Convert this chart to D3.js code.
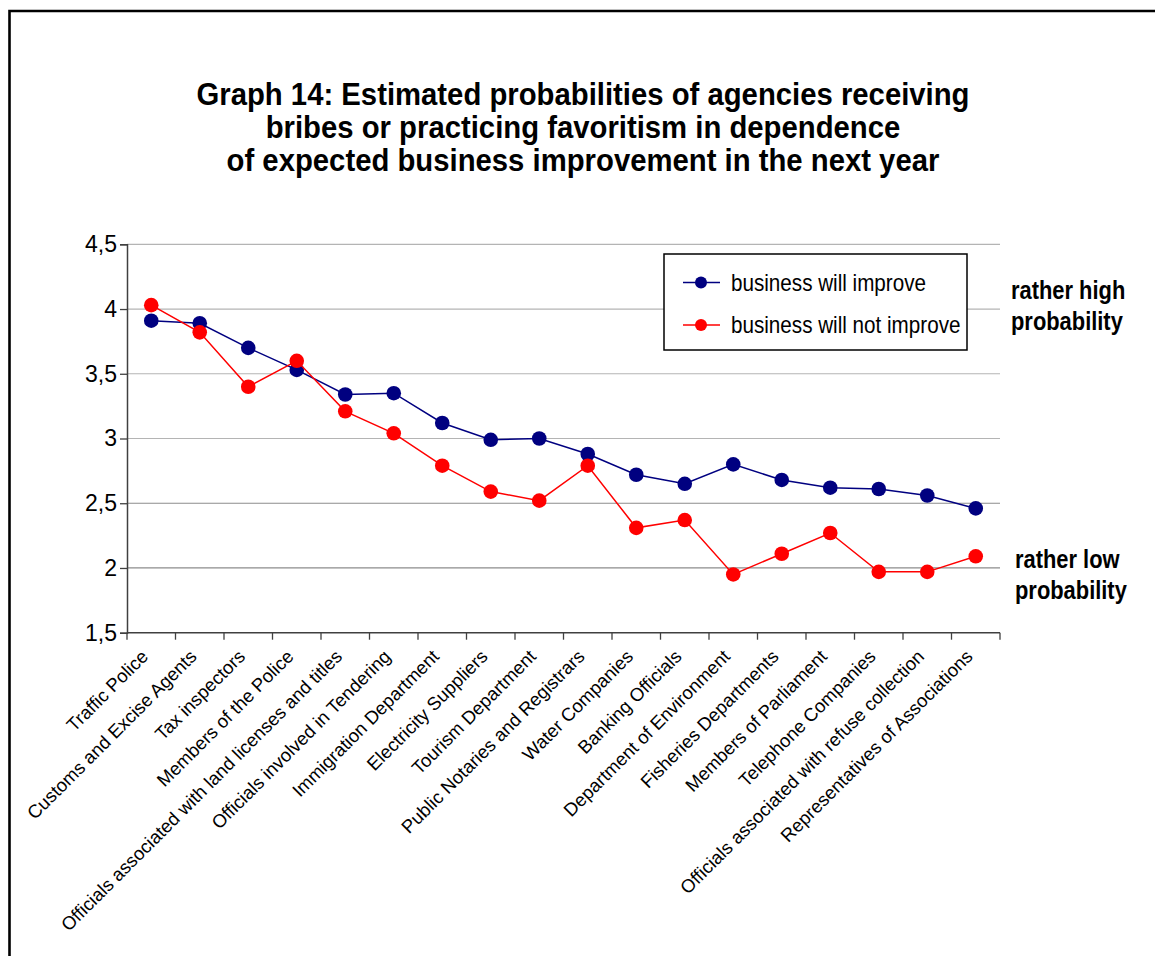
<!DOCTYPE html>
<html><head><meta charset="utf-8">
<script src="https://cdn.jsdelivr.net/npm/d3@7"></script>
<style>body{margin:0;background:#fff}svg{display:block}</style>
</head><body>
<svg id="c" width="1155" height="956"></svg>
<script>
const categories = ["Traffic Police","Customs and Excise Agents","Tax inspectors","Members of the Police","Officials associated with land licenses and titles","Officials involved in Tendering","Immigration Department","Electricity Suppliers","Tourism Department","Public Notaries and Registrars","Water Companies","Banking Officials","Department of Environment","Fisheries Departments","Members of Parliament","Telephone Companies","Officials associated with refuse collection","Representatives of Associations"];
const improve = [3.91,3.89,3.70,3.53,3.34,3.35,3.12,2.99,3.00,2.88,2.72,2.65,2.80,2.68,2.62,2.61,2.56,2.46];
const notImprove = [4.03,3.82,3.40,3.60,3.21,3.04,2.79,2.59,2.52,2.79,2.31,2.37,1.95,2.11,2.27,1.97,1.97,2.09];
const yTicks = [1.5,2,2.5,3,3.5,4,4.5];
const seriesNames = ["business will improve","business will not improve"];
const seriesColors = ["#000080","#ff0000"];
const titleLines = ["Graph 14: Estimated probabilities of agencies receiving","bribes or practicing favoritism in dependence","of expected business improvement in the next year"];

const svg = d3.select("#c");
const sans = "'Liberation Sans',Arial,sans-serif";

// condense text horizontally to imitate a narrow face
function condense(sel, factor){
  sel.each(function(){
    const w = this.getComputedTextLength();
    d3.select(this).attr("textLength", w*factor).attr("lengthAdjust","spacingAndGlyphs");
  });
}

// frame
svg.append("path").attr("d","M9.5,956 L9.5,11 L1155,11").attr("fill","none").attr("stroke","#000").attr("stroke-width",2.6);

// title
const tt = svg.append("g").selectAll("text").data(titleLines).join("text")
  .attr("x",583).attr("y",(d,i)=>105+i*33)
  .attr("text-anchor","middle").attr("font-family",sans).attr("font-weight","bold").attr("font-size",31)
  .text(d=>d);
{
  const w0 = tt.nodes()[0].getComputedTextLength();
  condense(tt, 773/w0);
}

const x = d3.scaleBand().domain(categories).range([127,1000]);
const y = d3.scaleLinear().domain([1.5,4.5]).range([632.7,244.3]);

// grid
svg.append("g").selectAll("line").data(yTicks.filter(t=>t>1.5)).join("line")
  .attr("x1",127).attr("x2",1000).attr("y1",d=>y(d)).attr("y2",d=>y(d))
  .attr("stroke",d=>d>=3?"#b4b4b4":"#8c8c8c").attr("stroke-width",1.2);

// y axis
const fmt = d=>String(d).replace(".",",");
const yAxis = svg.append("g").attr("transform","translate(127,0)")
  .call(d3.axisLeft(y).tickValues(yTicks).tickFormat(fmt).tickSize(7).tickPadding(3));
yAxis.select(".domain").attr("stroke","#404040").attr("stroke-width",1.5);
yAxis.selectAll(".tick line").attr("stroke","#404040").attr("stroke-width",1.3);
yAxis.selectAll("text").attr("font-family",sans).attr("font-size",23).attr("fill","#000");

// x axis
const xAxis = svg.append("g").attr("transform","translate(0,632.7)");
xAxis.append("line").attr("x1",127).attr("x2",1000).attr("y1",0).attr("y2",0).attr("stroke","#404040").attr("stroke-width",1.5);
const bounds = categories.map(c=>x(c)).concat([x.range()[1]]);
xAxis.selectAll("line.t").data(bounds).join("line").attr("class","t")
  .attr("x1",d=>d).attr("x2",d=>d).attr("y1",0).attr("y2",7).attr("stroke","#404040").attr("stroke-width",1.3);
xAxis.selectAll("text").data(categories).join("text")
  .attr("transform",d=>`translate(${x(d)+x.bandwidth()/2-2},25) rotate(-45)`)
  .attr("text-anchor","end").attr("font-family",sans).attr("font-size",18.5).text(d=>d);

// series
const data = [improve, notImprove];
const line = d3.line().x((d,i)=>x(categories[i])+x.bandwidth()/2).y(d=>y(d));
data.forEach((vals,k)=>{
  const g = svg.append("g");
  g.append("path").datum(vals).attr("d",line).attr("fill","none").attr("stroke",seriesColors[k]).attr("stroke-width",1.5);
  g.selectAll("circle").data(vals).join("circle")
    .attr("cx",(d,i)=>x(categories[i])+x.bandwidth()/2).attr("cy",d=>y(d)).attr("r",7.3)
    .attr("fill",seriesColors[k]);
});

// legend
const lg = svg.append("g");
lg.append("rect").attr("x",664).attr("y",254).attr("width",303).attr("height",96)
  .attr("fill","#fff").attr("stroke","#000").attr("stroke-width",1.5);
seriesNames.forEach((n,k)=>{
  const yy = 282.5 + k*42.5;
  lg.append("line").attr("x1",683).attr("x2",720).attr("y1",yy).attr("y2",yy).attr("stroke",seriesColors[k]).attr("stroke-width",1.5);
  lg.append("circle").attr("cx",701).attr("cy",yy).attr("r",6).attr("fill",seriesColors[k]);
  const t = lg.append("text").attr("x",731).attr("y",yy+8).attr("font-family",sans).attr("font-size",24).text(n);
  condense(t, 0.86);
});

// side annotations
const ann = [{t:["rather high","probability"],x:1011,y:299},{t:["rather low","probability"],x:1015,y:568}];
ann.forEach(a=>{
  const ts = svg.append("g").selectAll("text").data(a.t).join("text")
    .attr("x",a.x).attr("y",(d,i)=>a.y+i*31).attr("font-family",sans).attr("font-weight","bold").attr("font-size",25).text(d=>d);
  condense(ts, 0.875);
});
</script>
</body></html>
